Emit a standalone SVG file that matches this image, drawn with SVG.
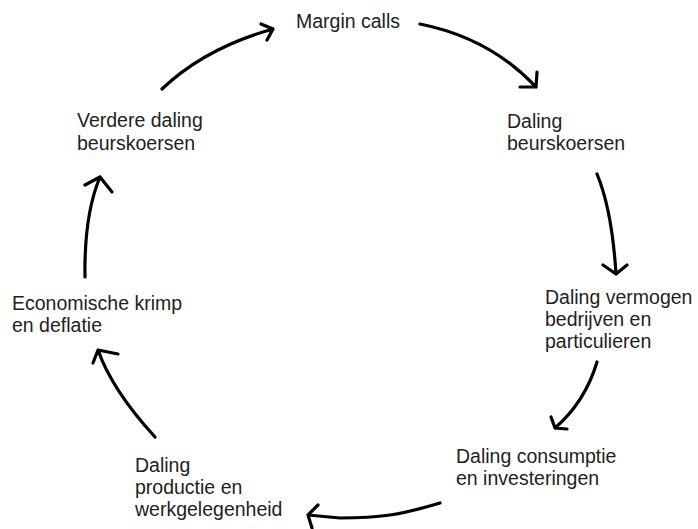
<svg xmlns="http://www.w3.org/2000/svg" width="698" height="529" viewBox="0 0 698 529">
<style>
text{font-family:"Liberation Sans",Arial,sans-serif;font-size:19.5px;fill:#222}
.c path{fill:none;stroke:#000;stroke-width:3.2;stroke-linecap:round;stroke-linejoin:round}
</style>
<rect width="698" height="529" fill="#fff"/>
<g id="n1"><text x="296" y="28">Margin calls</text></g>
<g id="n2"><text x="507" y="128">Daling</text><text x="507" y="150">beurskoersen</text></g>
<g id="n3"><text x="545" y="304">Daling vermogen</text><text x="545" y="326">bedrijven en</text><text x="545" y="348">particulieren</text></g>
<g id="n4"><text x="456" y="463">Daling consumptie</text><text x="456" y="485">en investeringen</text></g>
<g id="n5"><text x="135" y="472">Daling</text><text x="135" y="494">productie en</text><text x="135" y="516">werkgelegenheid</text></g>
<g id="n6"><text x="12" y="310">Economische krimp</text><text x="12" y="332">en deflatie</text></g>
<g id="n7"><text x="77" y="127">Verdere daling</text><text x="77" y="150">beurskoersen</text></g>
<g id="connectors" class="c">
<path d="M162,89 Q205,48 273,29 M261,24 L273,29 L267,40"/>
<path d="M420,24 Q490,38 536,87 M537,72 L536,87 L520,87"/>
<path d="M597,174 Q612,210 616,274 M603,265 L616,274 L627,265"/>
<path d="M597,362 Q585,402 555,428 M551,417 L555,428 L567,429"/>
<path d="M440,503 C400,515 380,518 340,518 L308,515 M318,505 L308,515 L312,528"/>
<path d="M155,437 Q112,390 98,350 M93,363 L98,350 L118,354"/>
<path d="M85,277 Q84,215 100,177 M85,185 L100,177 L112,192"/>
</g>
</svg>
